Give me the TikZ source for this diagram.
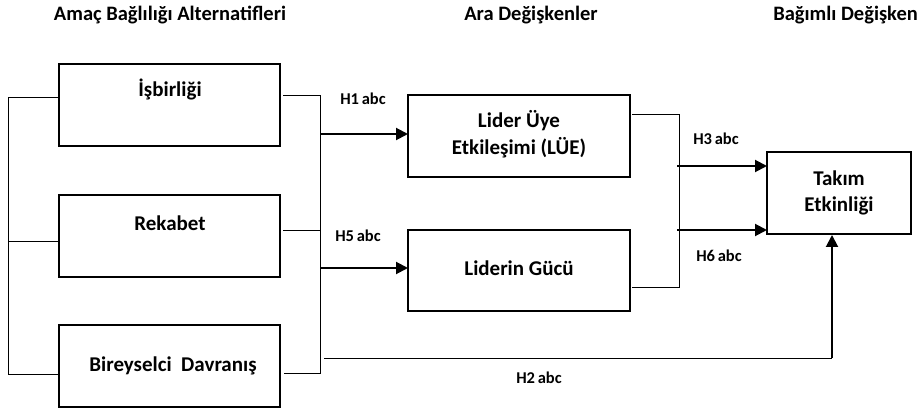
\documentclass[tikz,border=0pt]{standalone}
\usepackage{fontspec}
\setmainfont{Carlito}
\usetikzlibrary{arrows.meta}
\begin{document}
\begin{tikzpicture}[x=1pt,y=-1pt,
  box/.style={draw,line width=1.6pt,inner sep=0pt},
  boxtext/.style={font=\bfseries\fontsize{21}{26.5}\selectfont,align=center,inner sep=0pt},
  hdr/.style={font=\bfseries\fontsize{20.5}{24}\selectfont,inner sep=0pt},
  lbl/.style={font=\bfseries\fontsize{16.5}{19}\selectfont,inner sep=0pt},
  conn/.style={line width=0.9pt},
  arr/.style={line width=2pt,-{Triangle[length=12pt,width=12pt]}}]
\useasboundingbox (0,0) rectangle (919,411);
% boxes
\draw[box] (59,64) rectangle (280,146);
\draw[box] (59,195) rectangle (280,277);
\draw[box] (59,325) rectangle (280,407);
\draw[box] (408,95) rectangle (630,177);
\draw[box] (408,230) rectangle (630,311);
\draw[box] (767,152) rectangle (911,234);
\coordinate (b1l) at (59,97);
\coordinate (b2l) at (59,241);
\coordinate (b3l) at (59,374);
\coordinate (lue) at (408,134);
\coordinate (lg) at (408,268);
\coordinate (t3) at (767,166);
\coordinate (t6) at (767,230);
\coordinate (tb) at (832,235);
% texts
\node[boxtext] (isb) at (170,90) {İşbirliği};
\node[boxtext] (rek) at (170,223) {Rekabet};
\node[boxtext] (bir) at (173,366) {Bireyselci\ \ Davranış};
\node[boxtext] (lt) at (519,134) {Lider Üye\\Etkileşimi (LÜE)};
\node[boxtext] (lgt) at (519,268) {Liderin Gücü};
\node[boxtext] (tk) at (839,193) {Takım\\Etkinliği};
% headers
\node[hdr] (h1) at (170,15) {Amaç Bağlılığı Alternatifleri};
\node[hdr] (h2) at (531,15) {Ara Değişkenler};
\node[hdr,anchor=east] (h3) at (918,15) {Bağımlı Değişken};
% left bracket
\draw[conn] (b1l) -- (8,97) -- (8,374) -- (b3l);
\draw[conn] (8,241) -- (b2l);
% right bracket of left boxes
\draw[conn] (283,95) -- (320,95) -- (320,373) -- (284,373);
\draw[conn] (283,230) -- (320,230);
\draw[arr] (320,134) -- (lue);
\draw[arr] (320,268) -- (lg);
% right bracket of middle boxes
\draw[conn] (632,114) -- (679,114) -- (679,287) -- (632,287);
\draw[arr] (677,166) -- (t3);
\draw[arr] (677,230) -- (t6);
% H2
\draw[conn] (324,358) -- (832,358);
\draw[arr] (832,358) -- (tb);
% labels
\node[lbl] (l1) at (363,99) {H1\,abc};
\node[lbl] (l5) at (358,236) {H5\,abc};
\node[lbl] (l3) at (716,139) {H3\,abc};
\node[lbl] (l6) at (719,256) {H6\,abc};
\node[lbl] (l2) at (539,378) {H2\,abc};
\end{tikzpicture}
\end{document}
